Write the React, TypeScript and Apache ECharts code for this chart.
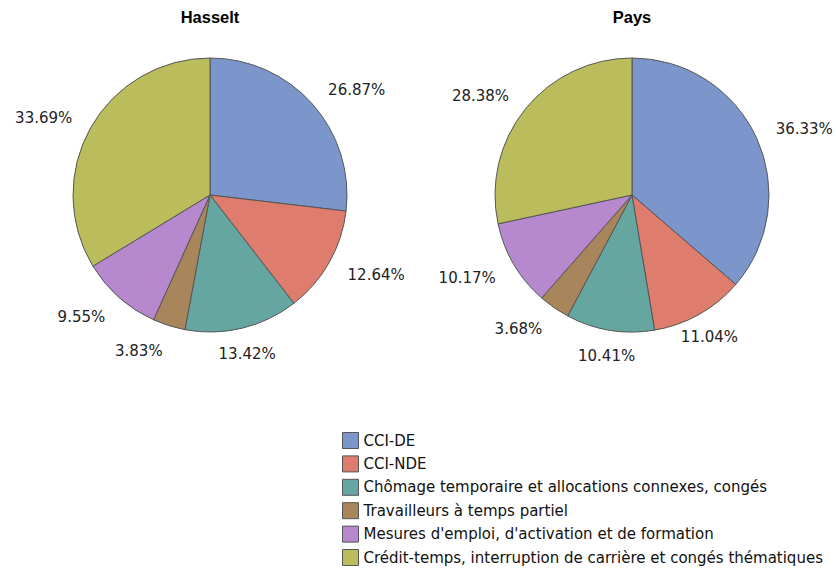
import React, { useEffect, useRef } from "react";
import * as echarts from "echarts";

const categories = [
  "CCI-DE",
  "CCI-NDE",
  "Chômage temporaire et allocations connexes, congés",
  "Travailleurs à temps partiel",
  "Mesures d'emploi, d'activation et de formation",
  "Crédit-temps, interruption de carrière et congés thématiques",
];
const hasseltValues = [26.87, 12.64, 13.42, 3.83, 9.55, 33.69];
const paysValues = [36.33, 11.04, 10.41, 3.68, 10.17, 28.38];
const titles = ["Hasselt", "Pays"];
const colors = ["#7C96CC", "#DE7D6E", "#66A6A0", "#A8855A", "#B689CE", "#BBBC5C"];

const FONT = "'Liberation Sans', Arial, sans-serif";
const LABEL_FONT = "'DejaVu Sans', Verdana, sans-serif";

// Places each label just outside its slice, along the slice's mid-angle
// (direction taken from ECharts' own, invisible, label line).
function labelLayout(params: any) {
  const pts = params.labelLinePoints;
  if (!pts || pts.length < 2) return {};
  const p0 = pts[0];
  const p1 = pts[1];
  let dx = p1[0] - p0[0];
  let dy = p1[1] - p0[1];
  const len = Math.hypot(dx, dy) || 1;
  dx /= len;
  dy /= len;
  const w = params.labelRect.width / 2;
  const h = params.labelRect.height * 0.36;
  const gap = 21;
  const px = p0[0] + dx * gap;
  const py = p0[1] + dy * gap;
  const s = dx > 0.55 ? 1 : dx < -0.25 ? -1 : 0;
  const vy = dy > 0 ? h * dy : 0;
  if (s === 0) {
    return { x: px, y: py + vy, align: "center", verticalAlign: "middle" };
  }
  return { x: px + s * w, y: py + vy, align: "center", verticalAlign: "middle" };
}

function makePie(name: string, values: number[], cx: number) {
  return {
    name,
    type: "pie",
    center: [cx, 195],
    radius: 137,
    startAngle: 90,
    clockwise: true,
    avoidLabelOverlap: false,
    data: categories.map((c, i) => ({ name: c, value: values[i] })),
    itemStyle: { borderColor: "#555555", borderWidth: 1 },
    label: {
      show: true,
      position: "outside",
      formatter: (p: any) => p.value.toFixed(2) + "%",
      fontFamily: LABEL_FONT,
      fontSize: 15,
      color: "#222222",
    },
    labelLine: { show: true, length: 10, length2: 0, lineStyle: { opacity: 0 } },
    labelLayout,
    emphasis: { disabled: true },
  };
}

export default function App() {
  const ref = useRef<HTMLDivElement>(null);
  useEffect(() => {
    if (!ref.current) return;
    const chart = echarts.init(ref.current, undefined, { renderer: "svg" });
    chart.setOption({
      animation: false,
      color: colors,
      backgroundColor: "#ffffff",
      title: [
        {
          text: titles[0],
          left: 210,
          top: 8,
          textAlign: "center",
          padding: 0,
          textStyle: { fontFamily: FONT, fontSize: 16.5, fontWeight: "bold", color: "#000" },
        },
        {
          text: titles[1],
          left: 632,
          top: 8,
          textAlign: "center",
          padding: 0,
          textStyle: { fontFamily: FONT, fontSize: 16.5, fontWeight: "bold", color: "#000" },
        },
      ],
      legend: {
        orient: "vertical",
        left: 342,
        top: 432,
        width: 490,
        height: 160,
        padding: 0,
        itemWidth: 16,
        itemHeight: 16,
        itemGap: 6.4,
        icon: "rect",
        selectedMode: false,
        itemStyle: { borderColor: "#555555", borderWidth: 1 },
        textStyle: { fontFamily: LABEL_FONT, fontSize: 15, lineHeight: 16, color: "#111" },
        data: categories,
      },
      series: [makePie(titles[0], hasseltValues, 210), makePie(titles[1], paysValues, 632)],
    });
    return () => chart.dispose();
  }, []);
  return (
    <div
      ref={ref}
      style={{ position: "fixed", left: 0, top: 0, width: 836, height: 568 }}
    />
  );
}
